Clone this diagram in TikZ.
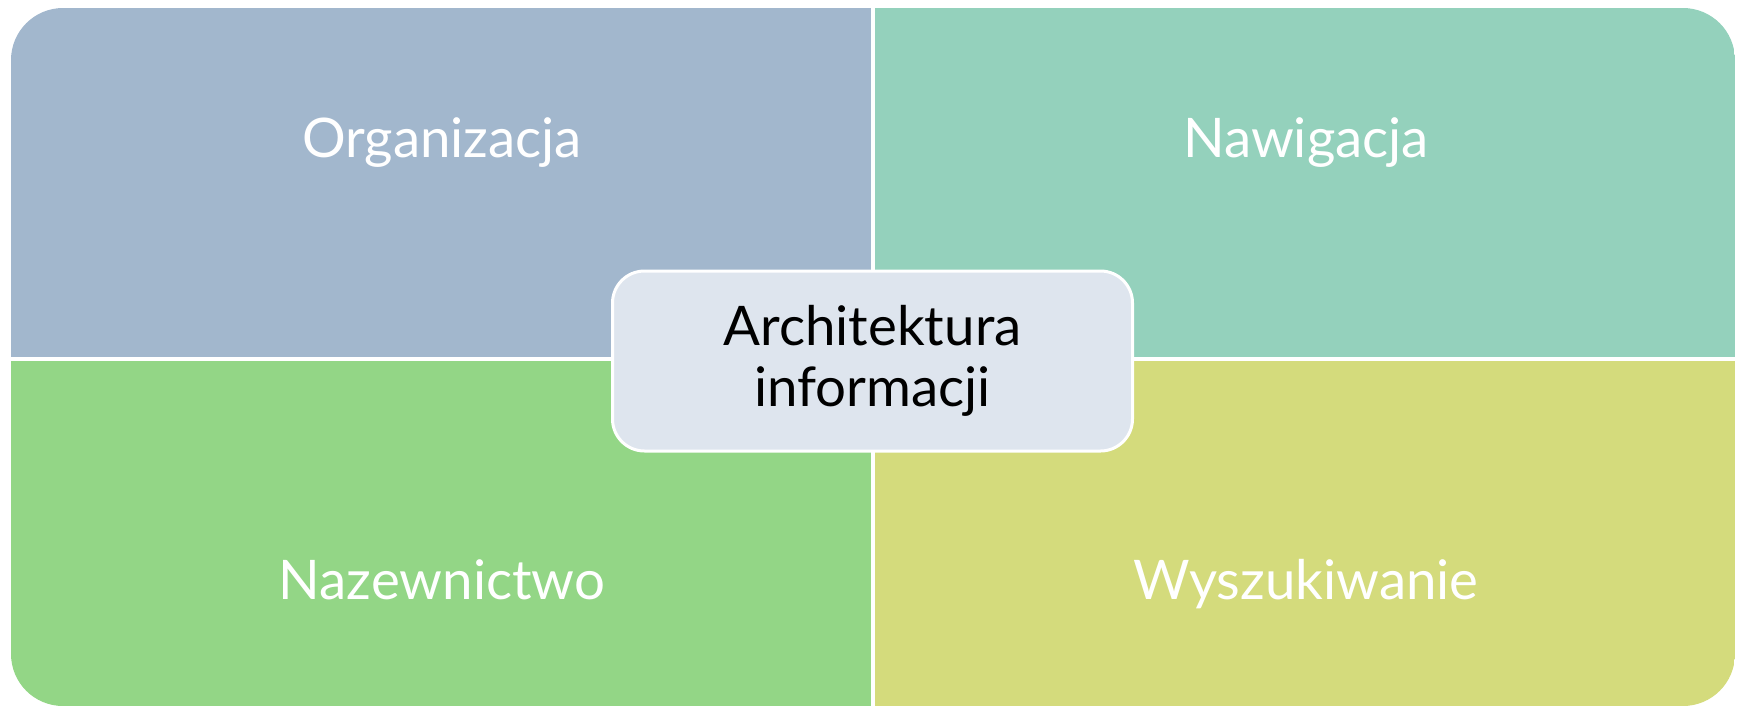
\documentclass[tikz,border=0pt]{standalone}
\usepackage{fontspec}
\setmainfont{Lato}
\usetikzlibrary{positioning}
\definecolor{orgblue}{HTML}{A2B7CD}
\definecolor{navgreen}{HTML}{94D1BC}
\definecolor{nazgreen}{HTML}{93D686}
\definecolor{wysyellow}{HTML}{D4DB7C}
\definecolor{hubgray}{HTML}{DEE5EE}
\tikzset{
  lbl/.style={text=white, anchor=base, font=\fontsize{27.3}{30}\selectfont},
  hub/.style={draw=white, line width=1.5pt, fill=hubgray, rounded corners=16pt,
    minimum width=260pt, minimum height=90pt, align=center,
    font=\fontsize{27.3}{30.5}\selectfont}
}
\begin{document}
\begin{tikzpicture}[x=0.5pt,y=-0.5pt]
    \useasboundingbox (0,0) rectangle (1741,708);
    % Quadrants, clipped to the rounded outer frame
    \begin{scope}
        \clip[rounded corners=26pt] (11,8) rectangle (1735,706);
        \fill[orgblue] (11,8) rectangle (873,359);
        \fill[navgreen] (873,8) rectangle (1735,359);
        \fill[nazgreen] (11,359) rectangle (873,706);
        \fill[wysyellow] (873,359) rectangle (1735,706);
    \end{scope}
    % White dividers
    \draw[white, line width=2pt] (873,8) -- (873,706);
    \draw[white, line width=2pt] (11,359) -- (1735,359);
    % Labels
    \node[lbl] (org) at (442,157) {Organizacja};
    \node[lbl] (nav) at (1306,157) {Nawigacja};
    \node[lbl] (naz) at (442,599) {Nazewnictwo};
    \node[lbl] (wys) at (1306,599) {Wyszukiwanie};
    % Centre box
    \node[hub] (ai) at (872.5,361) {Architektura\\informacji};
\end{tikzpicture}
\end{document}
